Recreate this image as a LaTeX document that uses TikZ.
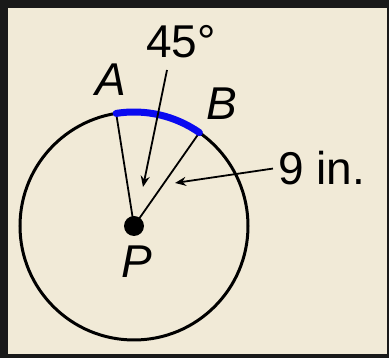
\documentclass[tikz,border=0pt]{standalone}
\usepackage{fontspec}
\setmainfont{Liberation Sans}
\usetikzlibrary{arrows.meta}
\definecolor{paper}{HTML}{F1EAD7}
\definecolor{arcblue}{HTML}{0A0AF0}
\begin{document}
\begin{tikzpicture}[x=1pt, y=1pt, >={Stealth[length=11pt, width=9pt]},
  lbl/.style={font=\fontsize{46}{50}\selectfont, inner sep=0pt}]
  % frame
  \fill[black!90] (0,0) rectangle (389,358);
  \fill[paper] (8,4) rectangle (387,350);
  \useasboundingbox (0,0) rectangle (389,358);
  % circle, radii and arc
  \coordinate (P) at (134,132);
  \coordinate (A) at ([shift={(99:114)}]P);
  \coordinate (B) at ([shift={(55:114)}]P);
  \draw[line width=3pt] (P) circle (114);
  \draw[line width=1.8pt] (A) -- (P) -- (B);
  \draw[arcblue, line width=7pt, line cap=round] (A) arc (99:55:114);
  \fill (P) circle (10);
  % labels
  \node[lbl] (labA) at (111,278) {\itshape A};
  \node[lbl] (labB) at (222,254) {\itshape B};
  \node[lbl] (labP) at (137,96) {\itshape P};
  \node[lbl] (ang) at (181,316) {45°};
  \node[lbl, anchor=base west, inner xsep=5pt] (nine) at (273,173) {9 in.};
  % leaders
  \coordinate (angtail) at (167,288);
  \coordinate (anghead) at (143,171);
  \coordinate (ninehead) at (175,175);
  \draw[->, line width=1.8pt] (angtail) -- (anghead);
  \draw[->, line width=1.8pt] (nine.west) -- (ninehead);
\end{tikzpicture}
\end{document}
